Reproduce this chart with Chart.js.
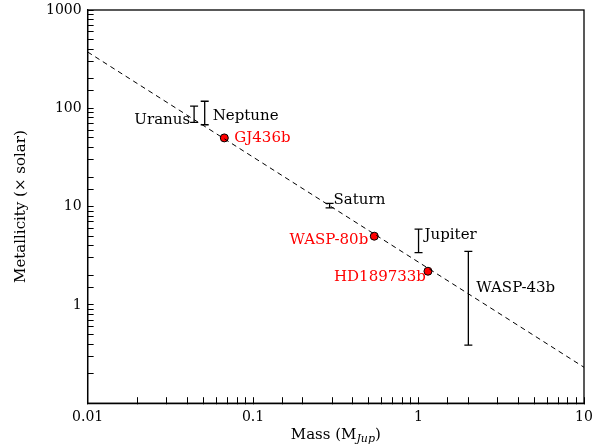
<!DOCTYPE html>
<html><head><script src="https://cdn.jsdelivr.net/npm/chart.js@4"></script>
<style>body{margin:0;background:#fff}#w{width:598px;height:446px}</style></head>
<body><div id="w"><canvas id="c"></canvas></div>
<script>
const planetNames=["GJ436b","WASP-80b","HD189733b"];
const planetMass=[0.067,0.54,1.14];
const planetMet=[50,5.0,2.2];
const barNames=["Uranus","Neptune","Saturn","Jupiter","WASP-43b"];
const barMass=[0.044,0.051,0.29,1.0,2.0];
const barLow=[72,68,9.7,3.4,0.39];
const barHigh=[105,118,10.8,5.9,3.5];
const fitMass=[0.01,10];
const fitMet=[374,0.232];
const FONT='"DejaVu Serif", serif';
const labelPos={
 "GJ436b":[10,0,'left','red'],"WASP-80b":[-6,4,'right','red'],"HD189733b":[-2,6,'right','red'],
 "Uranus":[-4,6,'right','#000'],"Neptune":[8,3,'left','#000'],"Saturn":[4,-5,'left','#000'],
 "Jupiter":[6,-6,'left','#000'],"WASP-43b":[8,-10,'left','#000']};
const errPlugin={id:'err',afterDatasetsDraw(ch){
 const x=ch.scales.x,y=ch.scales.y,c=ch.ctx;c.save();c.strokeStyle='#000';c.lineWidth=1.3;
 barMass.forEach((m,i)=>{const px=x.getPixelForValue(m),t=y.getPixelForValue(barHigh[i]),b=y.getPixelForValue(barLow[i]);
  c.beginPath();c.moveTo(px,t);c.lineTo(px,b);c.moveTo(px-4,t);c.lineTo(px+4,t);c.moveTo(px-4,b);c.lineTo(px+4,b);c.stroke();
  const yc=y.getPixelForValue(Math.sqrt(barLow[i]*barHigh[i]));const o=labelPos[barNames[i]];
  c.font='15px '+FONT;c.fillStyle=o[3];c.textAlign=o[2];c.textBaseline='middle';c.fillText(barNames[i],px+o[0],yc+o[1]);});
 planetMass.forEach((m,i)=>{const o=labelPos[planetNames[i]];c.font='15px '+FONT;c.fillStyle=o[3];c.textAlign=o[2];c.textBaseline='middle';
  c.fillText(planetNames[i],x.getPixelForValue(m)+o[0],y.getPixelForValue(planetMet[i])+o[1]);});
 const a=ch.chartArea,cx=(a.left+a.right)/2,ty=439;
 c.fillStyle='#000';c.textBaseline='alphabetic';c.textAlign='left';
 const p1='Mass (M',p2='Jup',p3=')';c.font='15px '+FONT;const w1=c.measureText(p1).width,w3=c.measureText(p3).width;
 c.font='italic 11px '+FONT;const w2=c.measureText(p2).width;let sx=cx-(w1+w2+w3)/2;
 c.font='15px '+FONT;c.fillText(p1,sx,ty);c.font='italic 11px '+FONT;c.fillText(p2,sx+w1,ty+3);c.font='15px '+FONT;c.fillText(p3,sx+w1+w2,ty);
 c.restore();}};
new Chart(document.getElementById('c'),{type:'scatter',
 data:{datasets:[
  {type:'line',data:fitMass.map((m,i)=>({x:m,y:fitMet[i]})),borderColor:'#000',borderWidth:1,borderDash:[5,4],pointRadius:0},
  {data:planetMass.map((m,i)=>({x:m,y:planetMet[i]})),backgroundColor:'red',borderColor:'#000',borderWidth:1,pointRadius:4}]},
 options:{animation:false,responsive:true,maintainAspectRatio:false,
  layout:{padding:{top:10,right:14,left:8,bottom:8}},
  plugins:{legend:{display:false},tooltip:{enabled:false}},
  scales:{
   x:{type:'logarithmic',min:0.01,max:10,border:{color:'#000',width:1.3},
    afterFit:s=>{s.paddingRight=0;s.paddingLeft=0;},
    grid:{drawOnChartArea:false,color:'#000',tickLength:-6},
    ticks:{color:'#000',padding:12,font:{family:FONT,size:14},autoSkip:false,maxRotation:0,
     callback:v=>{const l=Math.log10(v);return Math.abs(l-Math.round(l))<1e-9?String(v):'';}}},
   y:{type:'logarithmic',min:0.1,max:1000,border:{color:'#000',width:1.3},
    afterFit:s=>{s.paddingTop=0;s.paddingBottom=0;},
    grid:{drawOnChartArea:false,color:'#000',tickLength:-6},
    ticks:{color:'#000',padding:12,font:{family:FONT,size:14},autoSkip:false,
     callback:v=>{const l=Math.log10(v);return Math.abs(l-Math.round(l))<1e-9&&v>=1?String(v):'';}},
    title:{display:true,text:'Metallicity (× solar)',color:'#000',font:{family:FONT,size:15}}}}},
 plugins:[errPlugin,{id:'frame',afterDraw(ch){const a=ch.chartArea,c=ch.ctx;c.save();c.strokeStyle='#000';c.lineWidth=1.3;c.strokeRect(a.left,a.top,a.right-a.left,a.bottom-a.top);c.restore();}}]});
</script></body></html>
